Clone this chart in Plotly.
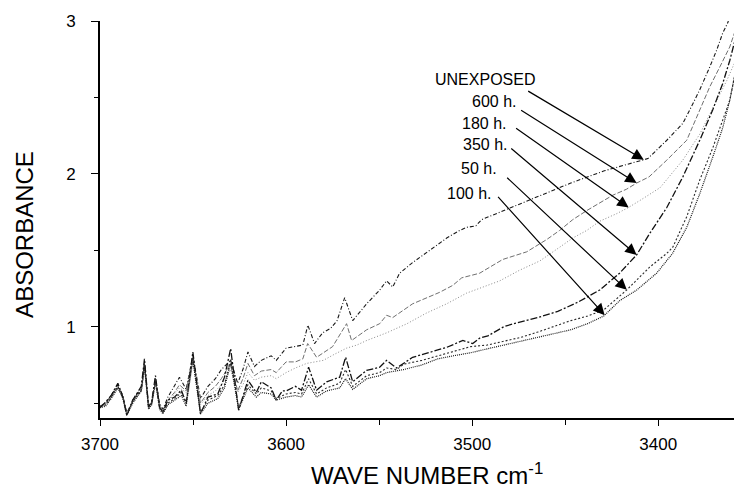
import numpy as np
import plotly.graph_objects as go

# ---------------- data ----------------
unexposed_x = [3700, 3697, 3694, 3690.4, 3687.7, 3685.6, 3682.4, 3679.7, 3677.8, 3676.1, 3673.9, 3672.2,
               3670.2, 3668, 3666.2, 3663.5, 3660, 3657.3, 3653.7, 3650.1, 3646, 3642, 3638, 3634.8,
               3629.8, 3626, 3623.2, 3620.5, 3617, 3613.3, 3608, 3605.3, 3600, 3595, 3591, 3588.3,
               3584.7, 3580.4, 3576, 3572.6, 3568.5, 3564.2, 3560, 3556.7, 3549.7, 3546, 3542.7, 3539,
               3532, 3522.8, 3513.7, 3506.7, 3503, 3498, 3495, 3479, 3465, 3447, 3429, 3415, 3405.6,
               3395.4, 3386.8, 3383, 3377.7, 3372.3, 3368.6, 3365.4, 3362.6, 3360]
unexposed_y = [0.47, 0.50, 0.55, 0.62, 0.55, 0.43, 0.52, 0.57, 0.60, 0.76, 0.48, 0.50,
               0.66, 0.50, 0.46, 0.54, 0.61, 0.67, 0.59, 0.81, 0.53, 0.61, 0.66, 0.72,
               0.78, 0.63, 0.72, 0.835, 0.74, 0.78, 0.81, 0.78, 0.86, 0.87, 0.88, 1.01,
               0.89, 0.96, 0.99, 1.04, 1.19, 1.04, 1.10, 1.15, 1.24, 1.30, 1.26, 1.35,
               1.42, 1.50, 1.58, 1.63, 1.65, 1.66, 1.70, 1.78, 1.85, 1.94, 2.02, 2.07, 2.10,
               2.22, 2.33, 2.42, 2.55, 2.70, 2.81, 2.92, 2.99, 3.10]

h600_x = [3700, 3697, 3694, 3690.4, 3687.7, 3685.6, 3682.4, 3679.7, 3677.8, 3676.1, 3673.9, 3672.2,
          3670.2, 3668, 3666.2, 3663.5, 3660, 3657.3, 3653.7, 3650.1, 3646, 3642, 3638, 3634.8,
          3629.8, 3626, 3623.2, 3620.5, 3617, 3613.3, 3608, 3605.3, 3600, 3595, 3591, 3588.4,
          3583.6, 3575, 3567.5, 3564.8, 3556.7, 3549.7, 3546, 3542.7, 3532, 3524.5, 3517.5, 3510.5,
          3505.6, 3496, 3490.6, 3483.6, 3470.7, 3460, 3453, 3446, 3438.4, 3431.5, 3424.5, 3417,
          3411.6, 3405, 3395.4, 3384.7, 3377.7, 3372.3, 3366.9, 3361.6, 3358, 3355]
h600_y = [0.48, 0.50, 0.54, 0.61, 0.54, 0.44, 0.51, 0.56, 0.58, 0.74, 0.49, 0.51,
          0.64, 0.49, 0.45, 0.52, 0.57, 0.62, 0.58, 0.80, 0.50, 0.57, 0.61, 0.66,
          0.76, 0.58, 0.66, 0.76, 0.68, 0.71, 0.72, 0.70, 0.77, 0.77, 0.79, 0.89,
          0.80, 0.87, 1.02, 0.91, 0.98, 1.02, 1.075, 1.06, 1.15, 1.19, 1.225, 1.27,
          1.32, 1.35, 1.39, 1.44, 1.49, 1.57, 1.63, 1.70, 1.76, 1.81, 1.86, 1.90,
          1.94, 1.98, 2.09, 2.22, 2.42, 2.57, 2.70, 2.83, 2.96, 3.05]

h180_x = [3700, 3697, 3694, 3690.4, 3687.7, 3685.6, 3682.4, 3679.7, 3677.8, 3676.1, 3673.9, 3672.2,
          3670.2, 3668, 3666.2, 3663.5, 3660, 3657.3, 3653.7, 3650.1, 3646, 3642, 3638, 3634.8,
          3629.8, 3626, 3623.2, 3620.5, 3617, 3613.3, 3608, 3605.3, 3600, 3595, 3589, 3585,
          3580, 3574, 3567.5, 3562, 3556.7, 3546, 3535, 3524.5, 3513.7, 3503, 3496, 3485.2,
          3474.5, 3463.7, 3453, 3446, 3438.4, 3431.5, 3422.3, 3416, 3408, 3399, 3386.8, 3377.7,
          3370.7, 3363.2, 3357.8, 3353]
h180_y = [0.48, 0.49, 0.53, 0.60, 0.53, 0.44, 0.50, 0.55, 0.57, 0.72, 0.49, 0.50,
          0.62, 0.48, 0.45, 0.51, 0.56, 0.60, 0.57, 0.77, 0.49, 0.55, 0.58, 0.62,
          0.72, 0.57, 0.62, 0.70, 0.65, 0.67, 0.68, 0.66, 0.70, 0.73, 0.76, 0.77,
          0.78, 0.82, 0.86, 0.88, 0.91, 0.96, 1.02, 1.09, 1.15, 1.22, 1.25, 1.30,
          1.37, 1.43, 1.52, 1.58, 1.63, 1.69, 1.74, 1.78, 1.84, 1.91, 2.09, 2.26,
          2.43, 2.61, 2.76, 2.92]

h350_x = [3700, 3697.6, 3694, 3690.4, 3687.7, 3685.6, 3682.4, 3679.7, 3677.8, 3676.1, 3673.9, 3672.2,
          3670.2, 3668, 3666.2, 3663.5, 3659.9, 3656.3, 3653.7, 3650.1, 3646, 3642, 3636.7, 3633.1,
          3629.8, 3625.5, 3620.5, 3616, 3613.3, 3608, 3605.3, 3602, 3600, 3595, 3591.7, 3587.9,
          3583.6, 3578.2, 3571.2, 3568, 3564.2, 3556.7, 3549.7, 3546, 3540.6, 3532, 3523, 3513.7,
          3505, 3499.7, 3496, 3491.6, 3483, 3477.7, 3464.8, 3454, 3443.3, 3436.3, 3431.5, 3420.8,
          3411.6, 3404.6, 3395.4, 3386.8, 3377.7, 3370.7, 3365.4, 3361.6, 3357, 3354]
h350_y = [0.475, 0.50, 0.55, 0.63, 0.54, 0.42, 0.52, 0.57, 0.61, 0.79, 0.475, 0.51,
          0.68, 0.475, 0.44, 0.52, 0.54, 0.585, 0.50, 0.835, 0.43, 0.54, 0.56, 0.67,
          0.857, 0.454, 0.65, 0.57, 0.64, 0.60, 0.52, 0.58, 0.58, 0.61, 0.585, 0.735,
          0.585, 0.64, 0.67, 0.80, 0.64, 0.715, 0.735, 0.78, 0.73, 0.80, 0.83, 0.865,
          0.91, 0.89, 0.925, 0.94, 1.00, 1.02, 1.06, 1.10, 1.16, 1.21, 1.24, 1.35,
          1.47, 1.61, 1.78, 1.98, 2.22, 2.42, 2.59, 2.74, 2.95, 3.10]

h50_x = [3700, 3697, 3694, 3690.4, 3687.7, 3685.6, 3682.4, 3679.7, 3677.8, 3676.1, 3673.9, 3672.2,
         3670.2, 3668, 3666.2, 3663.5, 3659.9, 3656.3, 3653.7, 3650.1, 3646, 3642, 3636.7, 3633.1,
         3629.8, 3625.5, 3620.5, 3616, 3613.3, 3608, 3605.3, 3600, 3595, 3591.7, 3587.9, 3583.6,
         3578.2, 3571.2, 3568, 3564.2, 3556.7, 3549.7, 3546, 3540.6, 3536.8, 3527, 3518.5, 3510,
         3500.8, 3492, 3483, 3474, 3464.8, 3456, 3447, 3437.9, 3429.3, 3417, 3404.6, 3395.4,
         3392.2, 3384.7, 3377.7, 3370.7, 3365.4, 3361.6, 3358, 3354]
h50_y = [0.48, 0.49, 0.54, 0.61, 0.54, 0.43, 0.51, 0.56, 0.59, 0.76, 0.47, 0.50,
         0.66, 0.47, 0.44, 0.50, 0.53, 0.57, 0.50, 0.80, 0.44, 0.52, 0.55, 0.62,
         0.79, 0.47, 0.62, 0.56, 0.60, 0.58, 0.53, 0.56, 0.57, 0.56, 0.66, 0.56,
         0.60, 0.63, 0.72, 0.61, 0.68, 0.70, 0.73, 0.72, 0.755, 0.78, 0.81, 0.84,
         0.87, 0.88, 0.905, 0.93, 0.965, 1.00, 1.04, 1.07, 1.11, 1.24, 1.39, 1.48,
         1.52, 1.72, 1.96, 2.17, 2.35, 2.48, 2.70, 3.00]

h100_x = [3700, 3697, 3694, 3690.4, 3687.7, 3685.6, 3682.4, 3679.7, 3677.8, 3676.1, 3673.9, 3672.2,
          3670.2, 3668, 3666.2, 3663.5, 3659.9, 3656.3, 3653.7, 3650.1, 3646, 3642, 3636.7, 3633.1,
          3629.8, 3625.5, 3620.5, 3616, 3613.3, 3608, 3605.3, 3600, 3595, 3591.7, 3587.9, 3583.6,
          3578.2, 3571.2, 3568, 3564.2, 3556.7, 3549.7, 3546, 3536.8, 3527, 3518.5, 3510, 3500.8,
          3492, 3483, 3474, 3464.8, 3456, 3447, 3438, 3429.3, 3420.8, 3411.6, 3400.9, 3392.3,
          3384.7, 3377.7, 3370.7, 3365.4, 3361.6, 3357, 3353]
h100_y = [0.47, 0.48, 0.53, 0.60, 0.53, 0.42, 0.50, 0.55, 0.58, 0.74, 0.46, 0.49,
          0.64, 0.46, 0.43, 0.49, 0.52, 0.55, 0.48, 0.78, 0.43, 0.50, 0.53, 0.60,
          0.76, 0.46, 0.60, 0.54, 0.57, 0.56, 0.52, 0.54, 0.55, 0.54, 0.62, 0.54,
          0.58, 0.60, 0.66, 0.59, 0.66, 0.68, 0.70, 0.72, 0.75, 0.79, 0.81, 0.83,
          0.855, 0.88, 0.905, 0.93, 0.955, 0.98, 1.02, 1.07, 1.17, 1.24, 1.35, 1.48,
          1.65, 1.87, 2.11, 2.30, 2.48, 2.75, 3.00]

labels = ["UNEXPOSED", "600 h.", "180 h.", "350 h.", "50 h.", "100 h."]
x_ticks = [3700, 3600, 3500, 3400]
y_ticks = [1, 2, 3]

# ---------------- layout helpers (positions / styles) ----------------
series = [(unexposed_x, unexposed_y), (h600_x, h600_y), (h180_x, h180_y),
          (h350_x, h350_y), (h50_x, h50_y), (h100_x, h100_y)]
styles = [dict(color="#1a1a1a", width=1.1, dash="4px,2px,1px,2px"),
          dict(color="#6f6f6f", width=1.0, dash="5px,2px"),
          dict(color="#8a8a8a", width=1.0, dash="1px,2px"),
          dict(color="#111111", width=1.3, dash="7px,2px,2px,2px"),
          dict(color="#2a2a2a", width=1.1, dash="2px,2px"),
          dict(color="#1a1a1a", width=1.2, dash="1px,1px")]

# arrow head wavenumbers, tails and label anchors (data coordinates)
head_wn = [3407.8, 3411.6, 3415.9, 3411.6, 3416.9, 3428.8]
tail_xy = [(3470.7, 2.547), (3474.5, 2.422), (3477.2, 2.305), (3479.8, 2.174), (3482.0, 1.984), (3486.8, 1.859)]
label_xy = [(3465.3, 2.619), (3475.5, 2.475), (3480.9, 2.331), (3480.4, 2.194), (3485.8, 2.037), (3489.0, 1.873)]

FONT = "Liberation Sans, Arial, sans-serif"

fig = go.Figure()
for (xs, ys), st, name in zip(series, styles, labels):
    fig.add_trace(go.Scatter(x=xs, y=ys, mode="lines", line=st, name=name, showlegend=False))

annotations = []
for (xs, ys), hw, (tx, ty), (lx, ly), name in zip(series, head_wn, tail_xy, label_xy, labels):
    hy = float(np.interp(hw, xs[::-1], ys[::-1]))
    annotations.append(dict(x=hw, y=hy, xref="x", yref="y", ax=tx, ay=ty, axref="x", ayref="y",
                            text="", showarrow=True, arrowhead=2, arrowsize=1.9, arrowwidth=1.2,
                            arrowcolor="black", standoff=0, startstandoff=0))
    annotations.append(dict(x=lx, y=ly, xref="x", yref="y", text=name, showarrow=False,
                            xanchor="right", yanchor="middle",
                            font=dict(family=FONT, size=16, color="black")))

# axis titles
annotations.append(dict(x=0.509, y=-0.142, xref="paper", yref="paper", text="WAVE NUMBER cm<sup>-1</sup>",
                        showarrow=False, xanchor="center", yanchor="middle",
                        font=dict(family=FONT, size=24, color="black")))
annotations.append(dict(x=-0.117, y=0.4635, xref="paper", yref="paper", text="ABSORBANCE",
                        showarrow=False, xanchor="center", yanchor="middle", textangle=-90,
                        font=dict(family=FONT, size=24, color="black")))

# the page body adds an 8px margin, so the figure is sized to fill the rest of the window
fig.update_layout(
    width=734, height=480,
    margin=dict(l=92, r=0, t=13, b=70, autoexpand=False),
    paper_bgcolor="white", plot_bgcolor="white",
    font=dict(family=FONT, color="black"),
    annotations=annotations,
    xaxis=dict(range=[3700, 3355], tickvals=x_ticks, ticktext=[str(v) for v in x_ticks],
               showline=True, linecolor="black", linewidth=2, ticks="outside", ticklen=6,
               tickwidth=1.2, tickcolor="black", showgrid=False, zeroline=False, automargin=False,
               tickfont=dict(size=17), ticklabelstandoff=4,
               minor=dict(tickvals=[3650, 3550, 3450], ticks="outside", ticklen=5, tickcolor="black", tickwidth=1.2)),
    yaxis=dict(range=[0.403, 3], tickvals=y_ticks, ticktext=[str(v) for v in y_ticks],
               showline=True, linecolor="black", linewidth=1.6, ticks="outside", ticklen=7,
               tickwidth=1.2, tickcolor="black", showgrid=False, zeroline=False, automargin=False,
               tickfont=dict(size=17), ticklabelstandoff=12,
               minor=dict(tickvals=[0.5, 1.5, 2.5], ticks="outside", ticklen=4, tickcolor="black", tickwidth=1.2)),
)

fig.write_html("out.html")
